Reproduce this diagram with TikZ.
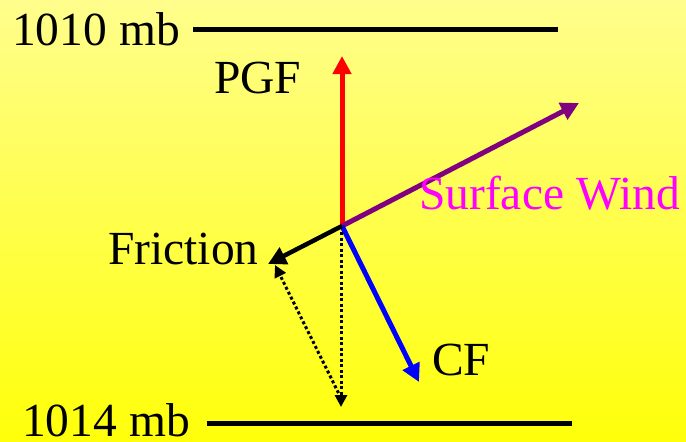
\documentclass[tikz,border=0pt]{standalone}
\usepackage{fontspec}
\setmainfont{Liberation Serif}
\usetikzlibrary{arrows.meta}
\definecolor{bgtop}{RGB}{255,254,140}
\definecolor{bgbot}{RGB}{255,255,10}
\definecolor{windpurple}{RGB}{128,0,128}
\definecolor{windmag}{RGB}{255,0,255}
\tikzset{
  lbl/.style={anchor=base west, inner sep=0pt, font=\fontsize{47.5}{50}\selectfont},
  isobar/.style={line width=5pt},
  vec/.style={line width=5pt, -{Triangle[length=18pt,width=18pt]}},
  dotvec/.style={line width=3pt, dash pattern=on 3pt off 2.5pt, -{Triangle[length=12pt,width=12pt]}}
}
\begin{document}
\begin{tikzpicture}[x=1pt,y=-1pt]
\shade[top color=bgtop, bottom color=bgbot] (0,0) rectangle (686,442);
\useasboundingbox (0,0) rectangle (686,442);
% isobars
\node[lbl] (p1010) at (12,45) {1010 mb};
\node[lbl] (p1014) at (22,436) {1014 mb};
\coordinate (t1) at (193,29);
\coordinate (t2) at (558,29);
\coordinate (b1) at (207,423);
\coordinate (b2) at (572,423);
\draw[isobar] (t1) -- (t2);
\draw[isobar] (b1) -- (b2);
% vectors
\coordinate (O) at (342,226);
\coordinate (pgf) at (342,56);
\coordinate (wind) at (579,103);
\coordinate (fric) at (268,264);
\coordinate (cf) at (419,382);
\coordinate (sumv) at (341,407);
\coordinate (dstart) at (341,398);
\coordinate (vtop) at (341,232);
\draw[vec, red] (O) -- (pgf);
\draw[vec, windpurple] (O) -- (wind);
\draw[vec, blue] (O) -- (cf);
\draw[vec, black, line width=4.5pt] (O) -- (fric);
\draw[dotvec] (vtop) -- (sumv);
\draw[dotvec] (dstart) -- (275,265);
% labels
\node[lbl] (lpgf) at (214,93) {PGF};
\node[lbl, text=windmag] (lwind) at (419,209) {Surface Wind};
\node[lbl] (lfric) at (108,264) {Friction};
\node[lbl] (lcf) at (432,375) {CF};
\end{tikzpicture}
\end{document}
